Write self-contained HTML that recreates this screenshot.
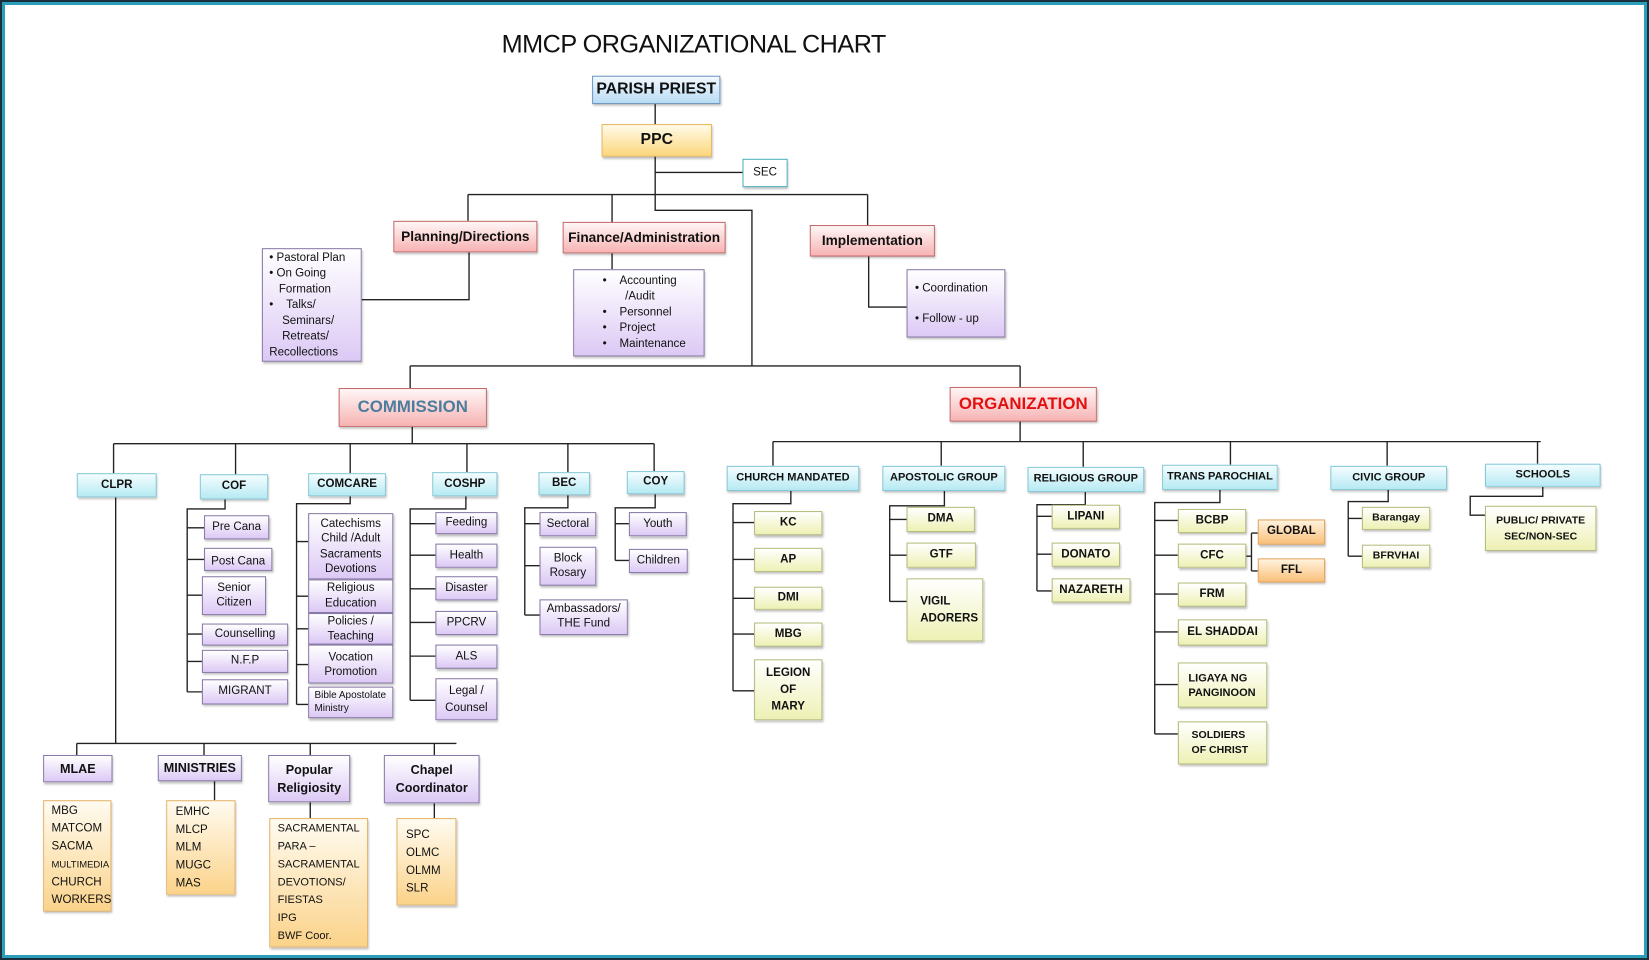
<!DOCTYPE html>
<html><head><meta charset="utf-8"><style>
html,body{margin:0;padding:0;background:#fff;}
body{width:1649px;height:960px;overflow:hidden;position:relative;}
#frame{position:absolute;left:0;top:0;width:1649px;height:960px;box-sizing:border-box;border:2px solid #1b2f3c;box-shadow:inset 0 0 0 3px #2a9fb9;}
#c{position:absolute;left:0;top:0;width:1568px;height:913px;transform-origin:0 0;transform:scale(1.05166,1.05148);font-family:"Liberation Sans Narrow","Liberation Sans",sans-serif;color:#111;}
.b{position:absolute;box-sizing:border-box;display:flex;align-items:center;justify-content:center;text-align:center;font-size:11px;line-height:1.25;box-shadow:1px 2px 2px rgba(0,0,0,.25);}
.cy{background:linear-gradient(#f4fdff,#b6eaf3);border:1px solid #86c9d6;font-weight:bold;}
.bl{background:linear-gradient(#f2f8ff,#b9dcf3);border:1px solid #6b95c0;font-weight:bold;}
.ye{background:linear-gradient(#fffbe8,#fcd77c);border:1px solid #eab65c;font-weight:bold;}
.rd{background:linear-gradient(#fff6f6,#f7b3b3);border:1px solid #c56a6a;font-weight:bold;}
.pu{background:linear-gradient(#ffffff,#dcc9f5);border:1px solid #8a7aa8;}
.or{background:linear-gradient(#fffbf0,#fbd38a);border:1px solid #e5b46a;}
.gy{background:linear-gradient(#ffffff,#eef1b4);border:1px solid #b6bd7d;font-weight:bold;}
.og{background:linear-gradient(#fff3de,#f9c07a);border:1px solid #e5a35a;font-weight:bold;}
.l{justify-content:flex-start;text-align:left;}
</style></head><body>
<div id="frame"></div>
<div id="c">
<svg width="1568" height="913" style="position:absolute;left:0;top:0" fill="none" stroke="#222" stroke-width="1.3">
<path d="M623 99V118M623 149V200H715V348M623 164H706M445 185H825M445 185V210M582 185V212M825 185V215"/>
<path d="M446 240V285H344M582 241V256M826 244V292H862"/>
<path d="M390 348H970M390 348V369M970 348V369"/>
<path d="M392 406V422M108 422H622M108 422V450M224 422V451M333 422V450M444 422V449M540 422V449M622 422V448"/>
<path d="M110 473V707M73 707H434M73 707V718M194 707V718M295 707V718M413 707V718M204 743V761M295 763V778M413 764V778"/>
<path d="M214 475V484H178V658M178 502H194M178 532H194M178 566H192M178 603H192M178 629H192M178 658H192"/>
<path d="M333 472V479H282V670M282 515H293M282 567H293M282 598H293M282 632H293M282 670H293"/>
<path d="M443 472V484H390V666M390 498H414M390 528H414M390 560H414M390 592H414M390 624H414M390 666H414"/>
<path d="M540 471V483H499V585M499 498H513M499 538H513M499 585H513"/>
<path d="M623 470V483H585V533M585 498H598M585 533H598"/>
<path d="M970 401V420M735 420H1465M735 420V443M895 420V443M1030 420V444M1170 420V442M1319 420V443M1462 420V441"/>
<path d="M752 467V479H697V657M697 497H717M697 532H717M697 569H717M697 603H717M697 657H717"/>
<path d="M898 467V481H846V572M846 494H862M846 528H862M846 572H862"/>
<path d="M1032 468V480H986V562M986 491H1000M986 527H1000M986 562H1000"/>
<path d="M1160 466V478H1098V698M1098 495H1120M1098 528H1120M1098 565H1120M1098 601H1120M1098 651H1120M1098 698H1120M1185 529H1190M1190 507V543M1190 507H1196M1190 543H1196"/>
<path d="M1320 466V477H1282V529M1282 493H1295M1282 529H1295"/>
<path d="M1467 463V472H1398V490H1412"/>
</svg>
<div style="position:absolute;left:477px;top:29px;font-size:24px;white-space:nowrap;letter-spacing:-0.5px">MMCP ORGANIZATIONAL CHART</div>

<div class="b bl" style="left:563px;top:72px;width:122px;height:27px;font-size:15px">PARISH PRIEST</div>
<div class="b ye" style="left:572px;top:118px;width:105px;height:31px;font-size:15px">PPC</div>
<div class="b" style="left:706px;top:151px;width:43px;height:27px;border:1.5px solid #4fb0bc;background:#fff;font-size:11px">SEC</div>

<div class="b rd" style="left:374px;top:210px;width:137px;height:30px;font-size:13px">Planning/Directions</div>
<div class="b rd" style="left:535px;top:211px;width:155px;height:30px;font-size:13px">Finance/Administration</div>
<div class="b rd" style="left:770px;top:214px;width:119px;height:30px;font-size:13px">Implementation</div>

<div class="b pu l" style="left:249px;top:236px;width:95px;height:108px;font-size:11px;padding-left:6px;line-height:15px">• Pastoral Plan<br>• On Going<br>&nbsp;&nbsp;&nbsp;Formation<br>•&nbsp;&nbsp;&nbsp;&nbsp;Talks/<br>&nbsp;&nbsp;&nbsp;&nbsp;Seminars/<br>&nbsp;&nbsp;&nbsp;&nbsp;Retreats/<br>Recollections</div>
<div class="b pu l" style="left:545px;top:256px;width:125px;height:83px;font-size:11px;padding-left:27px;line-height:15px">•&nbsp;&nbsp;&nbsp;&nbsp;Accounting<br>&nbsp;&nbsp;&nbsp;&nbsp;&nbsp;&nbsp;&nbsp;/Audit<br>•&nbsp;&nbsp;&nbsp;&nbsp;Personnel<br>•&nbsp;&nbsp;&nbsp;&nbsp;Project<br>•&nbsp;&nbsp;&nbsp;&nbsp;Maintenance</div>
<div class="b pu l" style="left:862px;top:256px;width:94px;height:65px;font-size:11px;padding-left:7px;line-height:29px">• Coordination<br>• Follow - up</div>

<div class="b rd" style="left:322px;top:369px;width:141px;height:37px;font-size:16px;color:#4d7d9c">COMMISSION</div>
<div class="b rd" style="left:903px;top:368px;width:140px;height:33px;font-size:16px;color:#e21010">ORGANIZATION</div>

<div class="b cy" style="left:73px;top:450px;width:76px;height:23px">CLPR</div>
<div class="b cy" style="left:190px;top:451px;width:65px;height:24px">COF</div>
<div class="b cy" style="left:293px;top:450px;width:74px;height:22px">COMCARE</div>
<div class="b cy" style="left:411px;top:449px;width:62px;height:23px">COSHP</div>
<div class="b cy" style="left:512px;top:449px;width:49px;height:22px">BEC</div>
<div class="b cy" style="left:596px;top:448px;width:55px;height:22px">COY</div>

<div class="b pu" style="left:194px;top:490px;width:62px;height:23px">Pre Cana</div>
<div class="b pu" style="left:194px;top:521px;width:65px;height:22px;align-items:flex-end">Post Cana</div>
<div class="b pu" style="left:192px;top:548px;width:61px;height:37px">Senior<br>Citizen</div>
<div class="b pu" style="left:192px;top:593px;width:82px;height:21px">Counselling</div>
<div class="b pu" style="left:192px;top:618px;width:82px;height:22px">N.F.P</div>
<div class="b pu" style="left:192px;top:646px;width:82px;height:24px">MIGRANT</div>

<div class="b pu" style="left:293px;top:488px;width:81px;height:63px;line-height:14.5px">Catechisms<br>Child /Adult<br>Sacraments<br>Devotions</div>
<div class="b pu" style="left:293px;top:551px;width:81px;height:32px;line-height:15px">Religious<br>Education</div>
<div class="b pu" style="left:293px;top:583px;width:81px;height:30px;line-height:14px">Policies /<br>Teaching</div>
<div class="b pu" style="left:293px;top:613px;width:81px;height:37px;line-height:14px">Vocation<br>Promotion</div>
<div class="b pu l" style="left:293px;top:653px;width:81px;height:30px;font-size:9.5px;padding-left:5px;line-height:12px">Bible Apostolate<br>Ministry</div>

<div class="b pu" style="left:414px;top:487px;width:59px;height:21px">Feeding</div>
<div class="b pu" style="left:414px;top:517px;width:59px;height:23px">Health</div>
<div class="b pu" style="left:414px;top:548px;width:59px;height:23px">Disaster</div>
<div class="b pu" style="left:414px;top:581px;width:59px;height:23px">PPCRV</div>
<div class="b pu" style="left:414px;top:613px;width:59px;height:23px">ALS</div>
<div class="b pu" style="left:414px;top:645px;width:59px;height:40px;line-height:16px">Legal /<br>Counsel</div>

<div class="b pu" style="left:513px;top:487px;width:54px;height:23px">Sectoral</div>
<div class="b pu" style="left:513px;top:520px;width:54px;height:37px">Block<br>Rosary</div>
<div class="b pu" style="left:513px;top:570px;width:84px;height:34px">Ambassadors/<br>THE Fund</div>

<div class="b pu" style="left:598px;top:487px;width:55px;height:23px">Youth</div>
<div class="b pu" style="left:598px;top:522px;width:56px;height:23px">Children</div>

<div class="b pu" style="left:41px;top:718px;width:66px;height:26px;font-weight:bold;font-size:12px">MLAE</div>
<div class="b pu" style="left:150px;top:718px;width:80px;height:25px;font-weight:bold;font-size:12px">MINISTRIES</div>
<div class="b pu" style="left:255px;top:718px;width:78px;height:45px;font-weight:bold;font-size:12px;line-height:17px">Popular<br>Religiosity</div>
<div class="b pu" style="left:365px;top:718px;width:91px;height:46px;font-weight:bold;font-size:12px;line-height:17px">Chapel<br>Coordinator</div>

<div class="b or l" style="left:41px;top:761px;width:65px;height:106px;padding-left:7px;line-height:17px"><div>MBG<br>MATCOM<br>SACMA<br><span style="font-size:9px">MULTIMEDIA</span><br>CHURCH<br>WORKERS</div></div>
<div class="b or l" style="left:158px;top:761px;width:66px;height:90px;padding-left:8px;line-height:17px">EMHC<br>MLCP<br>MLM<br>MUGC<br>MAS</div>
<div class="b or l" style="left:256px;top:778px;width:94px;height:123px;padding-left:7px;line-height:17px;font-size:10.5px">SACRAMENTAL<br>PARA –<br>SACRAMENTAL<br>DEVOTIONS/<br>FIESTAS<br>IPG<br>BWF Coor.</div>
<div class="b or l" style="left:377px;top:778px;width:57px;height:83px;padding-left:8px;line-height:17px">SPC<br>OLMC<br>OLMM<br>SLR</div>

<div class="b cy" style="left:691px;top:443px;width:126px;height:24px;font-size:10.5px">CHURCH MANDATED</div>
<div class="b cy" style="left:839px;top:443px;width:117px;height:24px;font-size:10.5px">APOSTOLIC GROUP</div>
<div class="b cy" style="left:977px;top:444px;width:111px;height:24px;font-size:10.5px">RELIGIOUS GROUP</div>
<div class="b cy" style="left:1105px;top:442px;width:110px;height:24px;font-size:10.5px">TRANS PAROCHIAL</div>
<div class="b cy" style="left:1265px;top:443px;width:111px;height:23px;font-size:10.5px">CIVIC GROUP</div>
<div class="b cy" style="left:1412px;top:441px;width:110px;height:22px;font-size:10.5px">SCHOOLS</div>

<div class="b gy" style="left:717px;top:486px;width:65px;height:23px">KC</div>
<div class="b gy" style="left:717px;top:521px;width:65px;height:23px">AP</div>
<div class="b gy" style="left:717px;top:558px;width:65px;height:22px">DMI</div>
<div class="b gy" style="left:717px;top:592px;width:65px;height:23px">MBG</div>
<div class="b gy" style="left:717px;top:627px;width:65px;height:58px;line-height:16px">LEGION<br>OF<br>MARY</div>

<div class="b gy" style="left:862px;top:482px;width:65px;height:24px">DMA</div>
<div class="b gy" style="left:862px;top:516px;width:66px;height:24px">GTF</div>
<div class="b gy l" style="left:862px;top:550px;width:73px;height:60px;padding-left:12px;line-height:16px">VIGIL<br>ADORERS</div>

<div class="b gy" style="left:1000px;top:480px;width:65px;height:23px">LIPANI</div>
<div class="b gy" style="left:1000px;top:516px;width:65px;height:23px">DONATO</div>
<div class="b gy" style="left:1000px;top:550px;width:75px;height:23px">NAZARETH</div>

<div class="b gy" style="left:1120px;top:484px;width:65px;height:23px">BCBP</div>
<div class="b gy" style="left:1120px;top:517px;width:65px;height:23px">CFC</div>
<div class="b gy" style="left:1120px;top:554px;width:65px;height:23px">FRM</div>
<div class="b gy" style="left:1120px;top:589px;width:85px;height:25px">EL SHADDAI</div>
<div class="b gy l" style="left:1120px;top:630px;width:85px;height:43px;padding-left:9px;line-height:14px;font-size:10.5px">LIGAYA NG<br>PANGINOON</div>
<div class="b gy l" style="left:1120px;top:686px;width:85px;height:41px;padding-left:12px;line-height:14px;font-size:10px">SOLDIERS<br>OF CHRIST</div>
<div class="b og" style="left:1196px;top:494px;width:64px;height:24px">GLOBAL</div>
<div class="b og" style="left:1196px;top:531px;width:64px;height:23px">FFL</div>

<div class="b gy" style="left:1295px;top:482px;width:65px;height:22px;font-size:10px">Barangay</div>
<div class="b gy" style="left:1295px;top:518px;width:65px;height:22px;font-size:10px">BFRVHAI</div>

<div class="b gy" style="left:1412px;top:481px;width:106px;height:43px;font-size:10px;line-height:15px">PUBLIC/ PRIVATE<br>SEC/NON-SEC</div>
</div>
</body></html>
